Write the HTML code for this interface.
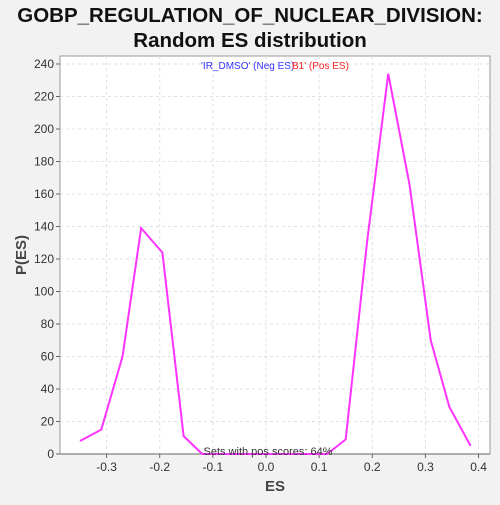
<!DOCTYPE html>
<html><head><meta charset="utf-8"><style>
body{margin:0;background:#f2f2f2;font-family:"Liberation Sans",sans-serif}
</style></head><body>
<svg width="500" height="500" xmlns="http://www.w3.org/2000/svg">
<rect width="500" height="500" fill="#f2f2f2"/>
<text x="250" y="22" text-anchor="middle" font-size="20.5" font-weight="bold" fill="#111">GOBP_REGULATION_OF_NUCLEAR_DIVISION:</text>
<text x="250" y="47" text-anchor="middle" font-size="20.5" font-weight="bold" fill="#111">Random ES distribution</text>
<rect x="60" y="56" width="430" height="398" fill="#fff" stroke="#999"/>
<g id="grid"></g><g id="axes"></g>
<path id="line" fill="none" stroke="#ff33ff" stroke-width="2"/>
<text x="201" y="69" font-size="10" fill="#3333ff">'IR_DMSO' (Neg ES)</text>
<text x="292" y="69" font-size="10" fill="#ff2222">B1' (Pos ES)</text>
<text x="268" y="455" text-anchor="middle" font-size="11" fill="#333">Sets with pos scores: 64%</text>
<text x="275" y="491" text-anchor="middle" font-size="15" font-weight="bold" fill="#444">ES</text>
<text transform="translate(26,255) rotate(-90)" text-anchor="middle" font-size="15" font-weight="bold" fill="#444">P(ES)</text>
</svg>
<script>
const xs=[-0.35,-0.31,-0.27,-0.235,-0.195,-0.155,-0.12,0,0.115,0.15,0.19,0.23,0.27,0.31,0.345,0.385];
const ys=[8,15,60,139,124,11,0,0,0,9,130,234,166,70,29,5];
const xTicks=[-0.3,-0.2,-0.1,0.0,0.1,0.2,0.3,0.4];
const yTicks=[0,20,40,60,80,100,120,140,160,180,200,220,240];
const X=v=>266+v*531.4, Y=v=>454-v*1.625;
const ns="http://www.w3.org/2000/svg";
const g=document.getElementById('grid'), a=document.getElementById('axes');
function mk(t,at,p){const e=document.createElementNS(ns,t);for(const k in at)e.setAttribute(k,at[k]);p.appendChild(e);return e;}
xTicks.forEach(v=>{const x=X(v);
const l=mk('line',{x1:x,x2:x,y1:56,y2:454,stroke:'#e0e0e0','stroke-dasharray':'3,3'},g);


mk('line',{x1:x,x2:x,y1:454,y2:458,stroke:'#666'},a);
const t=mk('text',{x:x,y:471,'text-anchor':'middle','font-size':12,fill:'#333'},a);t.textContent=v.toFixed(1);

});
yTicks.forEach(v=>{const y=Y(v);
const l=mk('line',{x1:60,x2:490,y1:y,y2:y,stroke:'#e0e0e0','stroke-dasharray':'3,3'},g);


mk('line',{x1:56,x2:60,y1:y,y2:y,stroke:'#666'},a);
const t=mk('text',{x:54,y:y+4,'text-anchor':'end','font-size':12,fill:'#333'},a);t.textContent=v;

});
mk('line',{x1:60,x2:490,y1:454,y2:454,stroke:'#666'},a);
document.getElementById('line').setAttribute('d',xs.map((v,i)=>(i?'L':'M')+X(v)+','+Y(ys[i])).join(''));
</script>
</body></html>
